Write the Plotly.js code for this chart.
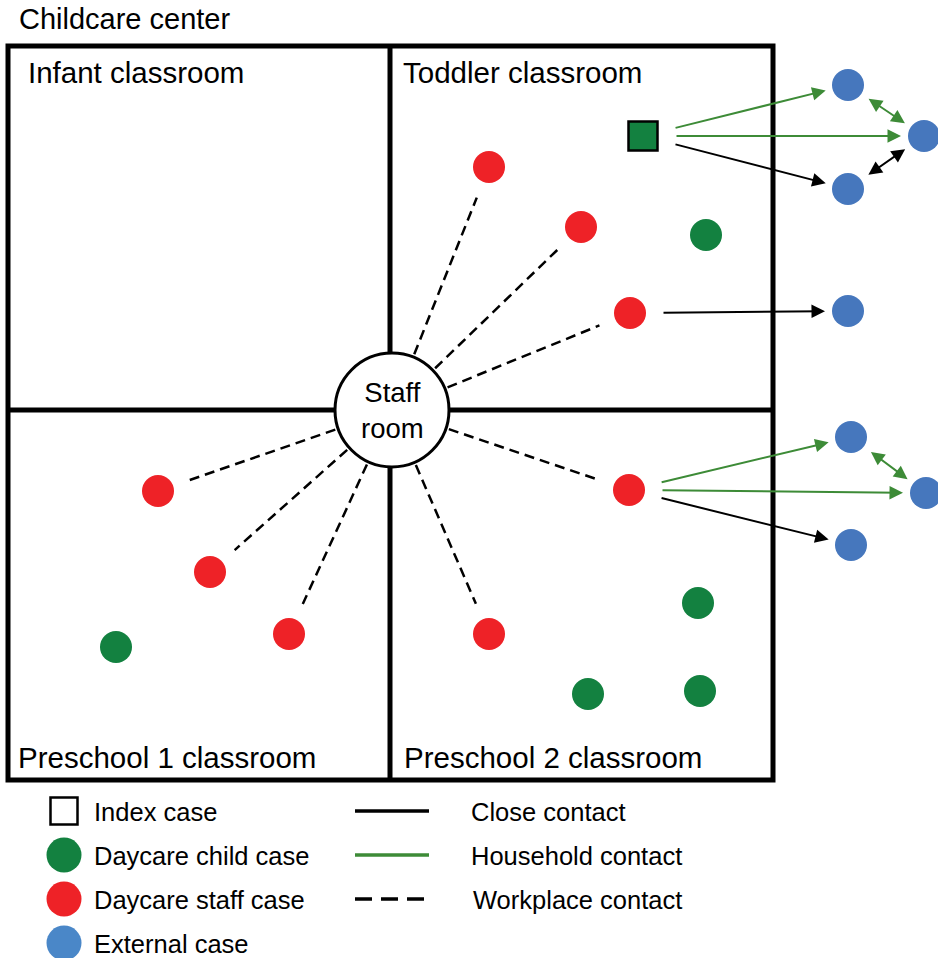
<!DOCTYPE html>
<html>
<head>
<meta charset="utf-8">
<script src="https://cdn.plot.ly/plotly-3.0.1.min.js"></script>
<style>html,body{margin:0;padding:0;background:#fff}#chart{width:938px;height:958px}</style>
</head>
<body>
<div id="chart"></div>
<script>
// ---------- data ----------
// Daycare staff cases (red)
const staffX = [489, 581, 630, 158, 210, 289, 629, 489];
const staffY = [167, 227, 313, 491, 572, 634, 490, 634];
// Daycare child cases (green)
const childX = [706, 116, 698, 588, 700];
const childY = [235, 647, 603, 694, 691];
// External cases (blue)
const extX = [848, 924, 848, 848, 851, 926, 851];
const extY = [85, 136, 189, 311, 437, 493, 545];
// Index case (green square)
const indexX = [643];
const indexY = [136];
// Staff room
const roomX = [392];
const roomY = [410];
// Workplace contacts: staff members linked to the staff room
const workplaceStaff = [0, 1, 2, 3, 4, 5, 6, 7];
// Close contacts (black)
const closeFrom = ['I0', 'S2', 'S6', 'E2'];
const closeTo   = ['E2', 'E3', 'E6', 'E1'];
const closeBoth = [false, false, false, true];
// Household contacts (green)
const houseFrom = ['I0', 'I0', 'S6', 'S6', 'E0', 'E4'];
const houseTo   = ['E0', 'E1', 'E4', 'E5', 'E1', 'E5'];
const houseBoth = [false, false, false, false, true, true];
// Labels
const roomLabels = ['Infant classroom', 'Toddler classroom', 'Preschool 1 classroom', 'Preschool 2 classroom'];
const legendCases = ['Index case', 'Daycare child case', 'Daycare staff case', 'External case'];
const legendContacts = ['Close contact', 'Household contact', 'Workplace contact'];

// ---------- styles ----------
const RED = '#ee2227', GREEN = '#138140', BLUE = '#4677bd', LGREEN = '#3d8b37';
const FONT = '"Liberation Sans", Arial, Helvetica, sans-serif';
const NODE = 32;

function pos(id) {
  const k = id[0], i = +id.slice(1);
  if (k === 'S') return [staffX[i], staffY[i]];
  if (k === 'C') return [childX[i], childY[i]];
  if (k === 'E') return [extX[i], extY[i]];
  if (k === 'I') return [indexX[i], indexY[i]];
}
function gapFor(id) {
  if (id[0] === 'E') return 23;
  return 32;
}
function seg(a, b, ga, gb) {
  const dx = b[0] - a[0], dy = b[1] - a[1], L = Math.hypot(dx, dy);
  const ux = dx / L, uy = dy / L;
  return [a[0] + ux * ga, a[1] + uy * ga, b[0] - ux * gb, b[1] - uy * gb];
}

const traces = [];
// workplace dashed lines
const wx = [], wy = [];
workplaceStaff.forEach(i => {
  const s = seg([roomX[0], roomY[0]], [staffX[i], staffY[i]], 60, 33);
  wx.push(s[0], s[2], null); wy.push(s[1], s[3], null);
});
traces.push({x: wx, y: wy, mode: 'lines', line: {color: '#000', width: 2.5, dash: '10px,6px'}, hoverinfo: 'skip'});

// nodes
traces.push({x: staffX, y: staffY, mode: 'markers', marker: {size: NODE, color: RED}, hoverinfo: 'skip'});
traces.push({x: childX, y: childY, mode: 'markers', marker: {size: NODE, color: GREEN}, hoverinfo: 'skip'});
traces.push({x: extX, y: extY, mode: 'markers', marker: {size: NODE, color: BLUE}, hoverinfo: 'skip'});
traces.push({x: indexX, y: indexY, mode: 'markers', marker: {size: 29, symbol: 'square', color: GREEN, line: {color: '#000', width: 2.5}}, hoverinfo: 'skip'});

// legend symbols
const legX = 64, legY0 = 811, legDY = 44;
traces.push({x: [legX], y: [legY0], mode: 'markers', marker: {size: 27, symbol: 'square', color: '#fff', line: {color: '#000', width: 2.5}}, hoverinfo: 'skip'});
traces.push({x: [legX, legX, legX], y: [legY0 + legDY, legY0 + 2 * legDY, legY0 + 3 * legDY], mode: 'markers',
  marker: {size: 35, color: [GREEN, RED, '#4a87c8']}, hoverinfo: 'skip'});
traces.push({x: [355, 429], y: [legY0, legY0], mode: 'lines', line: {color: '#000', width: 3.5}, hoverinfo: 'skip'});
traces.push({x: [355, 429], y: [legY0 + legDY, legY0 + legDY], mode: 'lines', line: {color: LGREEN, width: 3.5}, hoverinfo: 'skip'});
traces.push({x: [355, 429], y: [legY0 + 2 * legDY, legY0 + 2 * legDY], mode: 'lines', line: {color: '#000', width: 3.5, dash: '17px,9px'}, hoverinfo: 'skip'});

// annotations
const ann = [];
function addArrows(from, to, both, color) {
  from.forEach((f, i) => {
    const s = seg(pos(f), pos(to[i]), gapFor(f), gapFor(to[i]));
    const a = {x: s[2], y: s[3], ax: s[0], ay: s[1], xref: 'x', yref: 'y', axref: 'x', ayref: 'y',
      text: '', showarrow: true, arrowhead: 2, arrowsize: 1.35, arrowwidth: 2, arrowcolor: color};
    if (both[i]) { a.arrowside = 'end+start'; a.startarrowhead = 2; a.startarrowsize = 1.35; }
    ann.push(a);
  });
}
addArrows(closeFrom, closeTo, closeBoth, '#000');
addArrows(houseFrom, houseTo, houseBoth, LGREEN);

function txt(t, x, y, size, anchor) {
  ann.push({text: t, x: x, y: y, xref: 'x', yref: 'y', showarrow: false, xanchor: anchor || 'left', yanchor: 'middle',
    font: {family: FONT, size: size, color: '#000'}});
}
txt('Childcare center', 17, 19, 29);
txt(roomLabels[0], 26, 72, 29.5);
txt(roomLabels[1], 401, 72, 29.5);
txt(roomLabels[2], 16, 757, 29.5);
txt(roomLabels[3], 402, 757, 29.5);
txt('Staff<br>room', roomX[0], roomY[0], 27.5, 'center');
legendCases.forEach((t, i) => txt(t, 92, legY0 + i * legDY + 1, 25.5));
legendContacts.forEach((t, i) => txt(t, 469 + (i === 2 ? 2 : 0), legY0 + i * legDY + 1, 25.5));

const shapes = [
  {type: 'rect', xref: 'x', yref: 'y', x0: 8, x1: 773, y0: 46, y1: 780, line: {color: '#000', width: 5}, layer: 'below'},
  {type: 'line', xref: 'x', yref: 'y', x0: 390, x1: 390, y0: 46, y1: 780, line: {color: '#000', width: 5}, layer: 'below'},
  {type: 'line', xref: 'x', yref: 'y', x0: 8, x1: 773, y0: 410, y1: 410, line: {color: '#000', width: 5}, layer: 'below'},
  {type: 'circle', xref: 'x', yref: 'y', x0: roomX[0] - 57, x1: roomX[0] + 57, y0: roomY[0] - 57, y1: roomY[0] + 57,
    fillcolor: '#fff', line: {color: '#000', width: 3}, layer: 'below'}
];

const layout = {
  width: 938, height: 958, margin: {l: 0, r: 0, t: 0, b: 0},
  paper_bgcolor: '#fff', plot_bgcolor: '#fff', showlegend: false,
  xaxis: {range: [0, 938], visible: false, fixedrange: true},
  yaxis: {range: [958, 0], visible: false, fixedrange: true},
  shapes: shapes, annotations: ann, hovermode: false
};
Plotly.newPlot('chart', traces, layout, {displayModeBar: false, staticPlot: true});
</script>
</body>
</html>
